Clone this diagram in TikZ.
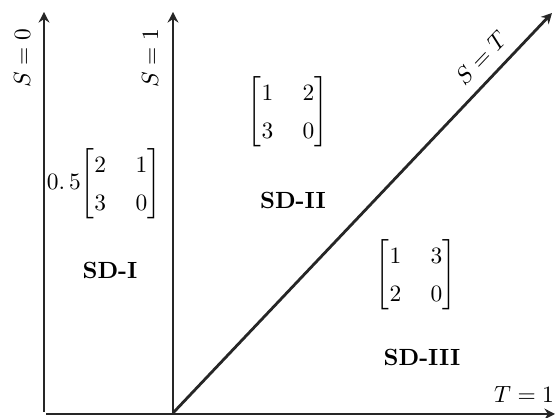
\documentclass[tikz,border=0pt]{standalone}
\usepackage{amsmath}
\usetikzlibrary{arrows.meta,positioning}

\begin{document}
\begin{tikzpicture}[x=0.015cm,y=0.015cm,
    axis/.style={-{Stealth[length=4.5pt,width=4.6pt]},line width=1.2pt,black!85},
    axislabel/.style={inner sep=0pt,font=\normalsize},
    payoff/.style={inner sep=0pt,
      execute at begin node={\renewcommand{\arraystretch}{1.35}\setlength{\arraycolsep}{6.3pt}}},
    region/.style={inner sep=0pt,font=\bfseries}]
  \useasboundingbox (0,0) rectangle (556,418);
  % axes
  \coordinate (o1) at (44,6);
  \coordinate (o2) at (173,5);
  \coordinate (t0) at (46,4);
  \coordinate (s0top) at (44,406);
  \coordinate (s1top) at (173,406);
  \coordinate (sttop) at (552,405);
  \coordinate (tend) at (555,4);
  \draw[axis] (o1) -- (s0top);
  \draw[axis] (o2) -- (s1top);
  \draw[axis] (o2) -- (sttop);
  \draw[axis] (t0) -- (tend);
  % axis labels
  \node[axislabel,rotate=90] (ls0) at (22,360) {$S=0$};
  \node[axislabel,rotate=90] (ls1) at (150,360) {$S=1$};
  \node[axislabel,rotate=46.5] (lst) at (481,360) {$S=T$};
  \node[axislabel] (lt1) at (524,23) {$T=1$};
  % payoff matrices
  \node[payoff] (m1) at (104,234) {$0.\,5\!\begin{bmatrix}2 & 1\\ 3 & 0\end{bmatrix}$};
  \node[payoff] (m2) at (288,306) {$\begin{bmatrix}1 & 2\\ 3 & 0\end{bmatrix}$};
  \node[payoff] (m3) at (416,143) {$\begin{bmatrix}1 & 3\\ 2 & 0\end{bmatrix}$};
  % regions
  \node[region] (sd1) at (110,148) {SD-I};
  \node[region] (sd2) at (293,218) {SD-II};
  \node[region] (sd3) at (422,61) {SD-III};
\end{tikzpicture}
\end{document}
